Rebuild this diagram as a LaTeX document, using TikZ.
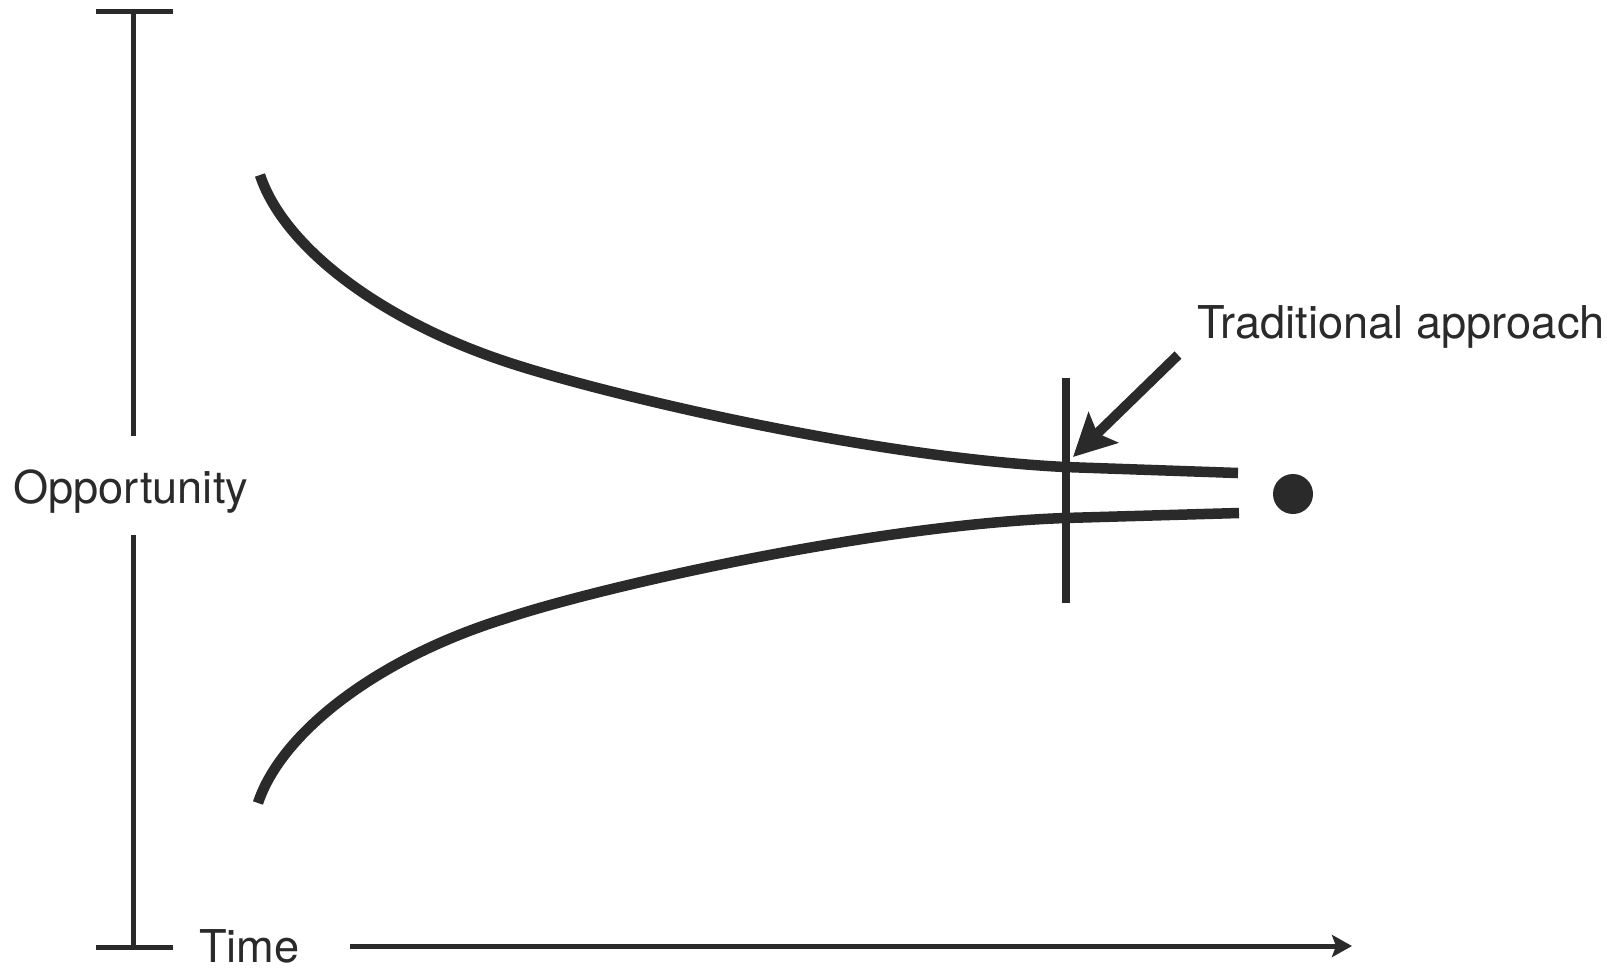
\documentclass[tikz,border=0pt]{standalone}
\usepackage{fontspec}
\setmainfont{TeX Gyre Heros}
\usetikzlibrary{arrows.meta}
\definecolor{ink}{HTML}{2A2A2A}
\tikzset{
  axisline/.style={draw=ink, line width=5pt},
  curveline/.style={draw=ink, line width=10.5pt, line cap=butt},
  marker/.style={draw=ink, line width=7.5pt},
  lbl/.style={inner sep=0pt, text=ink, font=\fontsize{45.2}{54}\selectfont},
}
\begin{document}
\begin{tikzpicture}[x=1pt,y=-1pt]
\useasboundingbox (0,0) rectangle (1612,970);
% axis
\coordinate (vtop) at (133,11);
\coordinate (vmid1) at (133,436);
\coordinate (vmid2) at (133,535);
\coordinate (vbot) at (133,947);
\coordinate (ttl) at (96,11);
\coordinate (ttr) at (173,11);
\coordinate (tbl) at (96,947);
\coordinate (tbr) at (173,947);
\draw[axisline] (ttl) -- (ttr);
\draw[axisline] (tbl) -- (tbr);
\draw[axisline] (vtop) -- (vmid1);
\draw[axisline] (vmid2) -- (vbot);
\node[lbl, anchor=base west] (opp) at (13,503) {Opportunity};
\node[lbl, anchor=base west] (time) at (199,962) {Time};
\coordinate (tstart) at (350,946);
\coordinate (tend) at (1352,946);
\draw[axisline, -{Stealth[length=20pt,width=22pt,inset=4pt]}] (tstart) -- (tend);
% curves
\coordinate (ua) at (260,175);
\coordinate (ub) at (507,362);
\coordinate (uc) at (1065,467);
\coordinate (ud) at (1238,473);
\draw[curveline] (ua) .. controls (283,245) and (377,319) .. (ub)
  .. controls (597,392) and (865,457) .. (uc) -- (ud);
\coordinate (la) at (258,803);
\coordinate (lb) at (507,618);
\coordinate (lc) at (1065,518);
\coordinate (ld) at (1239,513);
\draw[curveline] (la) .. controls (281,733) and (377,658) .. (lb)
  .. controls (597,588) and (870,525) .. (lc) -- (ld);
% marker
\coordinate (mtop) at (1066,378);
\coordinate (mbot) at (1066,603);
\draw[marker] (mtop) -- (mbot);
% dot
\node[circle, fill=ink, minimum size=40pt, inner sep=0pt] (dot) at (1293,494) {};
% label and arrow
\node[lbl, anchor=base west] (trad) at (1197,338) {Traditional approach};
\coordinate (atail) at (1178,355);
\coordinate (atip) at (1073,457);
\draw[draw=ink, line width=10pt, -{Stealth[length=42pt,width=42pt,inset=8pt]}] (atail) -- (atip);
\end{tikzpicture}
\end{document}
